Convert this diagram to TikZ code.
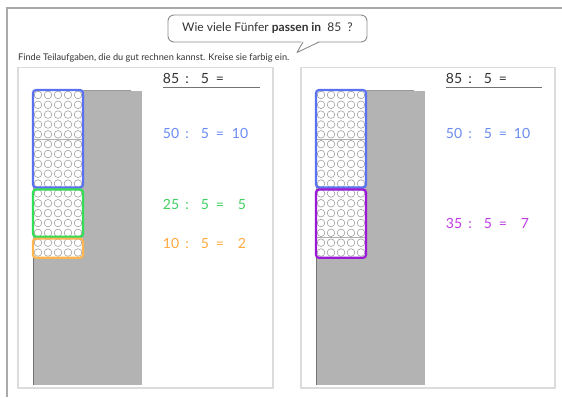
\documentclass[tikz,border=0pt]{standalone}
\usepackage{fontspec}
\setmainfont{Lato}
\definecolor{frameg}{HTML}{AAAAAA}
\definecolor{panelg}{HTML}{DCDCDC}
\definecolor{colg}{HTML}{B2B3B2}
\definecolor{dotg}{HTML}{9A9A9A}
\definecolor{fblue}{HTML}{5A72F0}
\definecolor{tblue}{HTML}{6A8CF2}
\definecolor{fgreen}{HTML}{33DD55}
\definecolor{tgreen}{HTML}{40D060}
\definecolor{forange}{HTML}{FFB54F}
\definecolor{torange}{HTML}{FFAA40}
\definecolor{fpurple}{HTML}{9A18D6}
\definecolor{tpurple}{HTML}{C03AE6}
\definecolor{txt}{HTML}{333333}
\tikzset{
  eqtxt/.style={inner sep=0pt,font=\fontsize{14}{14}\selectfont,anchor=base},
  panelbox/.style={draw=panelg,line width=1.5pt},
  blockbox/.style={fill=white,draw=dotg!80,line width=0.6pt},
  dotc/.style={draw=dotg,line width=0.55pt},
  ring/.style={line width=2.2pt,rounded corners=3pt},
}
\newcommand\eqrow[9]{%
  \node[eqtxt,text=#4] (#1a) at (171+#2,#3) {#5};
  \node[eqtxt,text=#4] (#1b) at (187+#2,#3) {:};
  \node[eqtxt,text=#4] (#1c) at (205+#2,#3) {#6};
  \node[eqtxt,text=#4] (#1d) at (220+#2,#3) {=};
  \node[eqtxt,text=#4] (#1e) at (#8+#2,#3) {#7};
}
\newcommand\stackcol[2]{% #1 offset, #2 name
  \fill[colg] (33+#1,91) rectangle (142+#1,385);
  \draw[gray!80,line width=0.8pt] (83+#1,90.5) -- (131+#1,90.5);
  \draw[gray!90!black,line width=1pt] (33.5+#1,91) -- (33.5+#1,385);
  \draw[blockbox] (33+#1,90) rectangle (83+#1,139.25);
  \draw[blockbox] (33+#1,139.25) rectangle (83+#1,188.5);
  \draw[blockbox] (33+#1,188.5) rectangle (83+#1,237.75);
  \draw[blockbox] (33+#1,237.75) rectangle (83+#1,257.5);
  \foreach \r in {0,...,16}{
    \foreach \c in {0,...,4}{
      \draw[dotc] (38+#1+10*\c,{90+9.85*(\r+0.5)}) circle (3.8);
    }
  }
}
\begin{document}
\begin{tikzpicture}[x=1pt,y=-1pt]
\useasboundingbox (0,0) rectangle (562,397);
\fill[white] (0,0) rectangle (562,397);
% outer frame
\draw[frameg,line width=1.2pt] (7,397) -- (7,8) -- (563,8);
% speech bubble
\node[draw=gray!90,line width=0.9pt,rounded corners=6pt,minimum width=199pt,minimum height=27pt,inner sep=0pt,fill=white,
  font=\fontsize{12}{12}\selectfont,text=txt] (bub) at (267.5,28.5) {Wie viele Fünfer \textbf{passen in}\ \ 85\ \ ?};
\coordinate (tl) at (303,42);
\coordinate (tr) at (319,42);
\coordinate (tip) at (297,52.5);
\fill[white] (302,40.5) -- (tip) -- (320,40.5) -- cycle;
\draw[gray!90,line width=0.9pt,line join=round] (tl) -- (tip) -- (tr);
% instruction
\node[anchor=base west,inner sep=0pt,font=\fontsize{9.2}{10}\selectfont,text=txt] (instr) at (18,60)
  {Finde Teilaufgaben, die du gut rechnen kannst. Kreise sie farbig ein.};
% panels
\draw[panelbox] (18,67.5) rectangle (273,388);
\draw[panelbox] (301,67.5) rectangle (555,388);
% stacks
\stackcol{0}{L}
\stackcol{283}{R}
% rings left
\draw[ring,fblue] (33,90) rectangle (83,187.5);
\draw[ring,fgreen] (33,189.5) rectangle (83,236.8);
\draw[ring,forange] (33,238.6) rectangle (83,257.8);
% rings right
\draw[ring,fblue] (316,90) rectangle (366,187.5);
\draw[ring,fpurple] (316,189.5) rectangle (366,257.8);
% equations left
\eqrow{la}{0}{83}{txt}{85}{5}{}{240}{}
\draw[gray!90!black,line width=1.4pt] (163,87.5) -- (260,87.5);
\eqrow{lb}{0}{138}{tblue}{50}{5}{10}{240}{}
\eqrow{lc}{0}{209}{tgreen}{25}{5}{5}{242}{}
\eqrow{ld}{0}{248}{torange}{10}{5}{2}{242}{}
% equations right
\eqrow{ra}{283}{83}{txt}{85}{5}{}{240}{}
\draw[gray!90!black,line width=1.4pt] (446,87.5) -- (542,87.5);
\eqrow{rb}{283}{138}{tblue}{50}{5}{10}{239}{}
\eqrow{rc}{283}{228}{tpurple}{35}{5}{7}{242}{}
\end{tikzpicture}
\end{document}
